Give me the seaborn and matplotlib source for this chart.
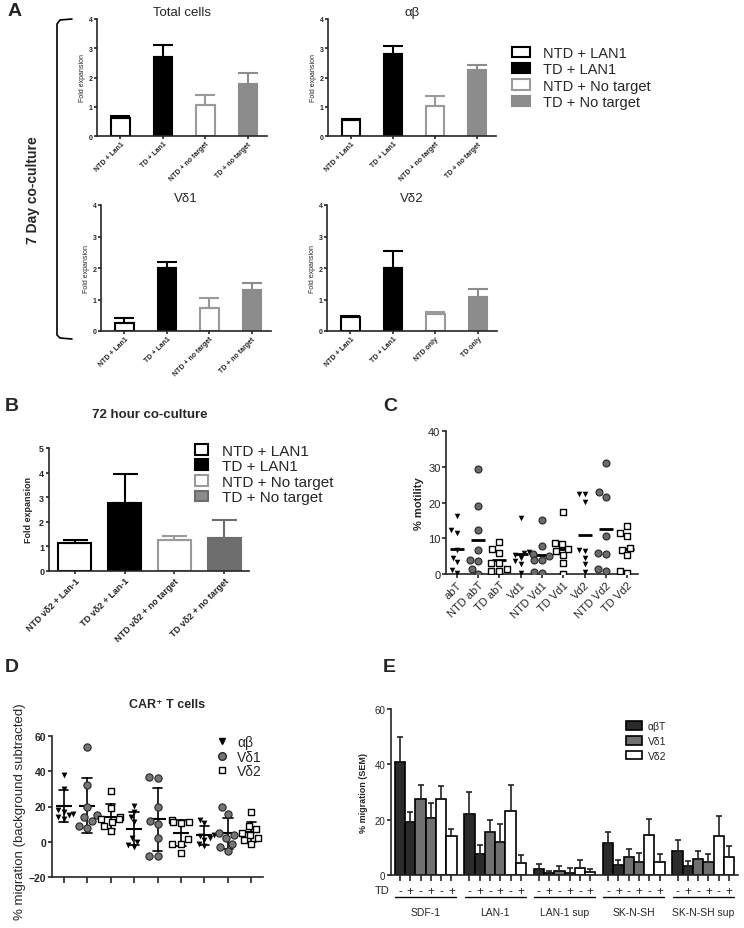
import numpy as np
import pandas as pd
import matplotlib
matplotlib.use("Agg")
import matplotlib.pyplot as plt
from matplotlib.patches import Patch
from matplotlib.lines import Line2D
from matplotlib.transforms import blended_transform_factory
import seaborn as sns

# === Panel A: 7 day co-culture, fold expansion (mean, upper SEM) ===
a_labels = ["NTD + Lan1", "TD + Lan1", "NTD + no target", "TD + no target"]
a_labels_vd2 = ["NTD + Lan1", "TD + Lan1", "NTD only", "TD only"]
a_total = [0.63, 2.70, 1.05, 1.78]
a_total_err = [0.07, 0.40, 0.35, 0.38]
a_ab = [0.54, 2.82, 1.02, 2.25]
a_ab_err = [0.04, 0.24, 0.36, 0.18]
a_vd1 = [0.24, 2.00, 0.73, 1.29]
a_vd1_err = [0.17, 0.19, 0.32, 0.23]
a_vd2 = [0.45, 2.00, 0.55, 1.07]
a_vd2_err = [0.04, 0.53, 0.05, 0.26]
legend_labels = ["NTD + LAN1", "TD + LAN1", "NTD + No target", "TD + No target"]

# === Panel B: 72 hour co-culture ===
b_labels = ["NTD vδ2 + Lan-1", "TD vδ2 + Lan-1", "NTD vδ2 + no target", "TD vδ2 + no target"]
b_vals = [1.15, 2.75, 1.27, 1.35]
b_err = [0.10, 1.18, 0.15, 0.72]

# === Panel C: % motility ===
c_cats = ["abT", "NTD abT", "TD abT", "Vd1", "NTD Vd1", "TD Vd1", "Vd2", "NTD Vd2", "TD Vd2"]
c_abT = [16.2, 12.2, 11.6, 6.6, 4.6, 3.3, 1.1, 0.2]
c_ntd_abT = [29.3, 19.0, 12.2, 6.8, 4.0, 3.6, 1.5, 0.0]
c_td_abT = [9.0, 7.0, 6.0, 3.0, 3.0, 1.5, 0.8, 0.8]
c_vd1 = [15.8, 6.2, 5.8, 5.2, 4.5, 3.5, 2.8, 0.2]
c_ntd_vd1 = [15.0, 7.8, 5.5, 5.0, 4.0, 3.9, 0.5, 0.2]
c_td_vd1 = [17.3, 8.8, 8.4, 7.0, 6.3, 5.3, 3.1, 0.0]
c_vd2 = [22.5, 22.5, 20.2, 6.6, 6.5, 4.6, 2.8, 0.5]
c_ntd_vd2 = [31.0, 23.0, 21.6, 10.5, 5.8, 5.7, 1.5, 0.8]
c_td_vd2 = [13.5, 11.5, 10.7, 7.3, 6.8, 5.3, 0.8, 0.2]
c_vals = [c_abT, c_ntd_abT, c_td_abT, c_vd1, c_ntd_vd1, c_td_vd1, c_vd2, c_ntd_vd2, c_td_vd2]

# === Panel D: CAR+ T cell migration (per target: SDF-1, LAN-1, SK-N-SH) ===
d_groups = ["SDF-1", "LAN-1", "SK-N-SH"]
d_cells = ["αβ", "Vδ1", "Vδ2"]
d_ab = [[38, 30, 18, 17, 16, 15, 14, 13],
        [20.5, 17, 14, 11, 2, 0, -2, -3],
        [12.5, 10.5, 4, 3, 2, 1, -1, -2.5]]
d_vd1 = [[54, 32, 20, 15, 14, 12, 9, 8],
         [37, 36, 20, 12, 10, 2, -8, -8],
         [19.5, 16, 5, 4, 2, -1, -3, -5]]
d_vd2 = [[29, 19, 14, 13, 13, 11, 9, 6],
         [12.5, 11, 11, 10.5, 1.5, -1, -1, -6.5],
         [17, 9, 7, 5, 4, 2, 1, -1]]

# === Panel E: % migration (SEM), TD - / + ===
e_groups = ["SDF-1", "LAN-1", "LAN-1 sup", "SK-N-SH", "SK-N-SH sup"]
e_bars = ["αβT -", "αβT +", "Vδ1 -", "Vδ1 +", "Vδ2 -", "Vδ2 +"]
e_abT_minus = [40.8, 22.2, 2.0, 11.4, 8.6]
e_abT_plus = [19.3, 7.5, 0.6, 3.5, 3.1]
e_vd1_minus = [27.5, 15.5, 1.5, 6.5, 5.8]
e_vd1_plus = [20.5, 12.0, 0.7, 4.6, 4.8]
e_vd2_minus = [27.5, 23.3, 2.5, 14.4, 14.0]
e_vd2_plus = [14.0, 4.5, 1.2, 4.8, 6.6]
e_abT_minus_err = [9.2, 7.8, 1.9, 4.1, 4.2]
e_abT_plus_err = [3.5, 3.3, 0.8, 1.8, 1.8]
e_vd1_minus_err = [5.0, 4.5, 1.9, 3.0, 2.7]
e_vd1_plus_err = [5.5, 6.5, 1.8, 3.3, 2.8]
e_vd2_minus_err = [4.5, 9.2, 2.9, 5.9, 7.4]
e_vd2_plus_err = [2.5, 2.8, 0.8, 2.7, 3.8]

# === Style ===
sns.set_style("ticks")
plt.rcParams["font.family"] = ["Liberation Sans", "DejaVu Sans"]
plt.rcParams["axes.linewidth"] = 1.2
plt.rcParams["xtick.major.width"] = 1.2
plt.rcParams["ytick.major.width"] = 1.2

W, H = 744, 929
fig = plt.figure(figsize=(7.44, 9.29), dpi=100)


def box(x0, y0, x1, y1):
    return [x0 / W, 1 - y1 / H, (x1 - x0) / W, (y1 - y0) / H]


def ftext(x, y, s, **kw):
    fig.text(x / W, 1 - y / H, s, **kw)


def fold_panel(ax, labels, vals, errs, fills, edges, width, capsize, ymax):
    df = pd.DataFrame({"condition": labels, "fold": vals})
    sns.barplot(data=df, x="condition", y="fold", hue="condition", order=labels, hue_order=labels,
                palette=fills, saturation=1, errorbar=None, legend=False, width=width,
                linewidth=1.5, ax=ax)
    for bar, ec, v, e in zip(ax.patches, edges, vals, errs):
        bar.set_edgecolor(ec)
        ax.errorbar(bar.get_x() + bar.get_width() / 2, v, yerr=[[0], [e]], color=ec,
                    elinewidth=1.5, capsize=capsize, capthick=1.5)
    ax.set_ylim(0, ymax)
    ax.set_yticks(range(ymax + 1))
    ax.set_xlabel("")
    sns.despine(ax=ax)


# === Panel A ===
a_fill = ["white", "black", "white", "#8c8c8c"]
a_edge = ["black", "black", "#9a9a9a", "#8c8c8c"]
a_axes = [
    (box(97, 20, 267, 137), a_labels, a_total, a_total_err, "Total cells"),
    (box(328, 20, 496, 137), a_labels, a_ab, a_ab_err, "αβ"),
    (box(101, 206, 271, 332), a_labels, a_vd1, a_vd1_err, "Vδ1"),
    (box(327, 206, 497, 332), a_labels_vd2, a_vd2, a_vd2_err, "Vδ2"),
]
for rect, labels, vals, errs, title in a_axes:
    ax = fig.add_axes(rect)
    fold_panel(ax, labels, vals, errs, a_fill, a_edge, 0.44, 7, 4)
    ax.set_xlim(-0.55, 3.45)
    ax.set_title(title, fontsize=9.5, pad=3)
    ax.set_ylabel("Fold expansion", fontsize=5, labelpad=2)
    ax.tick_params(axis="both", labelsize=5, length=2, pad=1)
    ax.set_xticks(range(4), labels, rotation=45, ha="right", rotation_mode="anchor", fontweight="bold")
    plt.setp(ax.get_yticklabels(), fontweight="bold")

a_handles = [Patch(facecolor=f, edgecolor=e, linewidth=1.5) for f, e in zip(a_fill, a_edge)]
fig.legend(a_handles, legend_labels, loc="upper left", bbox_to_anchor=(505 / W, 1 - 40 / H),
           frameon=False, fontsize=10.5, handlelength=1.2, handleheight=0.7, labelspacing=0.15,
           borderpad=0, handletextpad=0.9)

ftext(8, 12, "A", fontsize=14, fontweight="bold", va="center")
ftext(33, 190, "7 Day co-culture", fontsize=10, fontweight="bold", rotation=90, va="center", ha="center")
bx = [72, 60, 57, 57, 60, 72]
by = [20, 21, 25, 336, 339, 340]
fig.add_artist(Line2D([x / W for x in bx], [1 - y / H for y in by], color="black", linewidth=1.2))

# === Panel B ===
ax_b = fig.add_axes(box(49, 449, 249, 572))
b_fill = ["white", "black", "white", "#6e6e6e"]
b_edge = ["black", "black", "#9a9a9a", "#6e6e6e"]
fold_panel(ax_b, b_labels, b_vals, b_err, b_fill, b_edge, 0.66, 9, 5)
ax_b.set_xlim(-0.52, 3.5)
ax_b.set_ylabel("Fold expansion", fontsize=6.5, fontweight="bold", labelpad=4)
ax_b.tick_params(axis="both", labelsize=6.5, length=2.5, pad=1)
ax_b.set_xticks(range(4), b_labels, rotation=45, ha="right", rotation_mode="anchor", fontweight="bold")
plt.setp(ax_b.get_yticklabels(), fontweight="bold")
b_handles = [Patch(facecolor=f, edgecolor=e, linewidth=1.5) for f, e in zip(["white", "black", "white", "#8c8c8c"], b_edge)]
fig.legend(b_handles, legend_labels, loc="upper left", bbox_to_anchor=(187 / W, 1 - 437 / H),
           frameon=False, fontsize=11, handlelength=0.9, handleheight=0.7, labelspacing=0.1,
           borderpad=0, handletextpad=0.9)
ftext(5, 407, "B", fontsize=14, fontweight="bold", va="center")
ftext(150, 415, "72 hour co-culture", fontsize=9.5, fontweight="bold", va="center", ha="center")

# === Panel C ===
ax_c = fig.add_axes(box(446, 432, 638, 575))
c_df = pd.DataFrame({"cell": np.repeat(c_cats, [len(v) for v in c_vals]),
                     "motility": np.concatenate(c_vals)})
sns.swarmplot(data=c_df[c_df.cell.isin(c_cats[0::3])], x="cell", y="motility", order=c_cats,
              marker="v", color="black", size=4, ax=ax_c, warn_thresh=1)
sns.swarmplot(data=c_df[c_df.cell.isin(c_cats[1::3])], x="cell", y="motility", order=c_cats,
              marker="o", color="#6b6b6b", edgecolor="#262626", linewidth=0.8, size=5, ax=ax_c, warn_thresh=1)
sns.swarmplot(data=c_df[c_df.cell.isin(c_cats[2::3])], x="cell", y="motility", order=c_cats,
              marker="s", color="white", edgecolor="black", linewidth=1, size=4.5, ax=ax_c, warn_thresh=1)
sns.pointplot(data=c_df, x="cell", y="motility", order=c_cats, errorbar=None, color="black",
              marker="_", markersize=10, markeredgewidth=2, linestyle="none", ax=ax_c)
ax_c.set_xlim(-0.5, 8.5)
ax_c.set_ylim(0, 40)
ax_c.set_yticks([0, 10, 20, 30, 40])
ax_c.set_xlabel("")
ax_c.set_ylabel("% motility", fontsize=8, fontweight="bold", labelpad=3)
ax_c.tick_params(axis="both", labelsize=8, length=3, pad=1)
ax_c.set_xticks(range(9), c_cats, rotation=45, ha="right", rotation_mode="anchor")
sns.despine(ax=ax_c)
ftext(383, 407, "C", fontsize=14, fontweight="bold", va="center")

# === Panel D ===
ax_d = fig.add_axes(box(52, 737, 263, 878))
d_pos, d_cell, d_val = [], [], []
for gi, g in enumerate(d_groups):
    for cell, data in zip(d_cells, [d_ab, d_vd1, d_vd2]):
        d_pos += [g + " " + cell] * len(data[gi])
        d_cell += [cell] * len(data[gi])
        d_val += data[gi]
d_df = pd.DataFrame({"pos": d_pos, "cell": d_cell, "migration": d_val})
d_order = [g + " " + c for g in d_groups for c in d_cells]
sns.swarmplot(data=d_df[d_df.cell == "αβ"], x="pos", y="migration", order=d_order,
              marker="v", color="black", size=4.2, ax=ax_d, warn_thresh=1)
sns.swarmplot(data=d_df[d_df.cell == "Vδ1"], x="pos", y="migration", order=d_order,
              marker="o", color="#757575", edgecolor="#262626", linewidth=0.8, size=5.2, ax=ax_d, warn_thresh=1)
sns.swarmplot(data=d_df[d_df.cell == "Vδ2"], x="pos", y="migration", order=d_order,
              marker="s", color="white", edgecolor="black", linewidth=1, size=4.8, ax=ax_d, warn_thresh=1)
sns.pointplot(data=d_df, x="pos", y="migration", order=d_order, errorbar="sd", capsize=0.4,
              color="black", marker="_", markersize=12, markeredgewidth=1.5, linestyle="none",
              err_kws={"linewidth": 1.2}, ax=ax_d)
ax_d.set_xlim(-0.5, 8.5)
ax_d.set_ylim(-20, 60)
ax_d.set_yticks([-20, 0, 20, 40, 60])
ax_d.set_xticks(range(9), [""] * 9)
ax_d.set_xticks([1, 4, 7], d_groups, minor=True)
ax_d.tick_params(axis="x", which="major", length=4, direction="out")
ax_d.tick_params(axis="x", which="minor", length=0, pad=8, labelsize=7.5)
ax_d.tick_params(axis="y", labelsize=7.5, length=3, pad=1)
plt.setp(ax_d.get_xticklabels(minor=True), fontweight="bold")
plt.setp(ax_d.get_yticklabels(), fontweight="bold")
ax_d.set_xlabel("")
ax_d.set_ylabel("")
sns.despine(ax=ax_d)
ftext(20, 812, "% migration (background subtracted)", fontsize=9.5, rotation=90, va="center", ha="center")
d_handles = [Line2D([], [], marker="v", color="black", linestyle="none", markersize=4.5),
             Line2D([], [], marker="o", color="#757575", markeredgecolor="#262626", linestyle="none", markersize=5.5),
             Line2D([], [], marker="s", color="white", markeredgecolor="black", linestyle="none", markersize=5)]
fig.legend(d_handles, d_cells, loc="upper left", bbox_to_anchor=(208 / W, 1 - 729 / H), frameon=False,
           fontsize=10, handlelength=1, labelspacing=0.05, borderpad=0, handletextpad=0.6)
ftext(5, 668, "D", fontsize=14, fontweight="bold", va="center")
ftext(167, 705, "CAR⁺ T cells", fontsize=9, fontweight="bold", va="center", ha="center")

# === Panel E ===
ax_e = fig.add_axes(box(391, 710, 738, 876))
e_means = [e_abT_minus, e_abT_plus, e_vd1_minus, e_vd1_plus, e_vd2_minus, e_vd2_plus]
e_errs = [e_abT_minus_err, e_abT_plus_err, e_vd1_minus_err, e_vd1_plus_err, e_vd2_minus_err, e_vd2_plus_err]
e_fill = ["#2b2b2b", "#2b2b2b", "#707070", "#707070", "white", "white"]
e_df = pd.DataFrame({"group": e_groups * 6, "bar": np.repeat(e_bars, 5),
                     "migration": np.concatenate(e_means)})
sns.barplot(data=e_df, x="group", y="migration", hue="bar", order=e_groups, hue_order=e_bars,
            palette=e_fill, saturation=1, errorbar=None, width=0.89, edgecolor="black",
            linewidth=1.2, legend=False, ax=ax_e)
centers = []
for cont, errs in zip(ax_e.containers, e_errs):
    for bar, e in zip(cont, errs):
        cx = bar.get_x() + bar.get_width() / 2
        centers.append(cx)
        ax_e.errorbar(cx, bar.get_height(), yerr=[[0], [e]], color="#222222",
                      elinewidth=1.2, capsize=2.5, capthick=1.2)
centers = sorted(centers)
ax_e.set_xlim(-0.5, 4.5)
ax_e.set_ylim(0, 60)
ax_e.set_yticks([0, 20, 40, 60])
ax_e.set_xticks(centers, ["-", "+"] * 15)
ax_e.set_xticks(range(5), e_groups, minor=True)
ax_e.tick_params(axis="x", which="major", length=4, pad=3, labelsize=8.5)
ax_e.tick_params(axis="x", which="minor", length=0, pad=23, labelsize=7.5)
ax_e.tick_params(axis="y", labelsize=7, length=3, pad=1)
ax_e.set_xlabel("")
ax_e.set_ylabel("% migration (SEM)", fontsize=6.5, fontweight="bold", labelpad=5)
sns.despine(ax=ax_e)
trans = blended_transform_factory(ax_e.transData, ax_e.transAxes)
for gi in range(5):
    gx = centers[gi * 6:(gi + 1) * 6]
    ax_e.plot([gx[0] - 0.07, gx[-1] + 0.07], [-0.133, -0.133], color="black", linewidth=1,
              transform=trans, clip_on=False)
ax_e.text(-0.003, -0.09, "TD", transform=ax_e.transAxes, ha="right", va="center", fontsize=8)
e_handles = [Patch(facecolor=c, edgecolor="black", linewidth=1.2) for c in ["#2b2b2b", "#707070", "white"]]
fig.legend(e_handles, ["αβT", "Vδ1", "Vδ2"], loc="upper left", bbox_to_anchor=(621 / W, 1 - 717 / H),
           frameon=False, fontsize=7.5, handlelength=1.5, handleheight=0.9, labelspacing=0.45,
           borderpad=0, handletextpad=0.6)
ftext(383, 668, "E", fontsize=14, fontweight="bold", va="center")

fig.savefig("out.png", dpi=100)
